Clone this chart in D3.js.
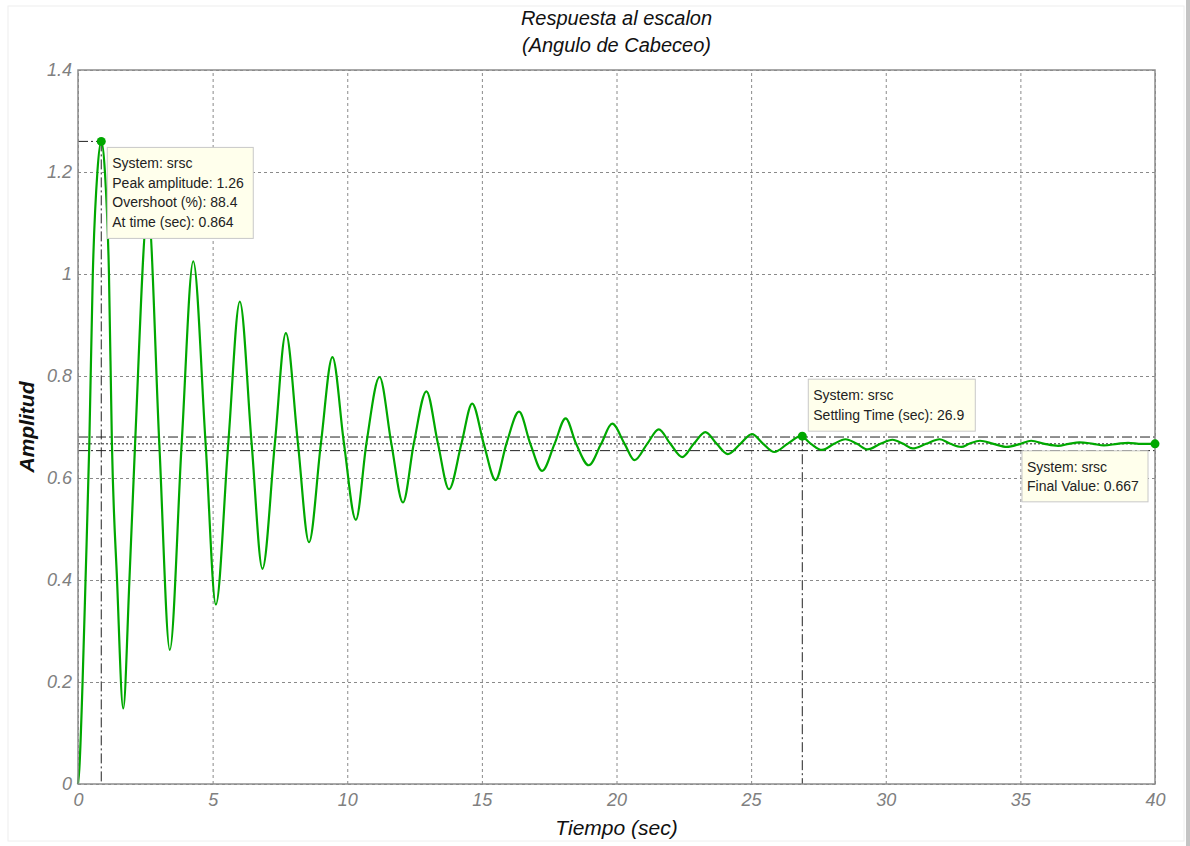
<!DOCTYPE html>
<html>
<head>
<meta charset="utf-8">
<script src="https://cdn.jsdelivr.net/npm/d3@7"></script>
<style>
  body { margin: 0; background: #fff; }
  svg { display: block; }
</style>
</head>
<body>
<script>
// respuesta al escalon (tiempo en s, amplitud)
var tiempo = [0, 0.05, 0.17, 0.28, 0.42, 0.55, 0.72, 0.864, 1.0, 1.15, 1.26, 1.45, 1.68, 1.91, 2.12,
  2.6, 3.02, 3.41, 3.85, 4.28, 4.74, 5.12, 5.58, 6.01, 6.45, 6.85, 7.31, 7.72, 8.17, 8.58, 9.02,
  9.45, 9.88, 10.32, 10.71, 11.2, 11.64, 12.07, 12.47, 12.94, 13.37, 13.78, 14.24, 14.64, 15.07,
  15.51, 15.91, 16.38, 16.8, 17.24, 17.7, 18.11, 18.5, 18.97, 19.43, 19.84, 20.3, 20.67, 21.14,
  21.57, 22.0, 22.44, 22.87, 23.3, 23.72, 24.13, 24.6, 25.03, 25.45, 25.86, 26.35, 26.85, 27.22,
  27.63, 28.08, 28.5, 28.93, 29.33, 29.8, 30.25, 30.65, 31.0, 31.5, 32.0, 32.4, 32.8, 33.1, 33.5,
  34.0, 34.5, 35.0, 35.4, 35.9, 36.4, 36.8, 37.2, 37.7, 38.1, 38.6, 39.0, 39.5, 40];
var amplitud = [0, 0.03, 0.2, 0.4, 0.667, 1.0, 1.2, 1.26, 1.2, 1.0, 0.667, 0.4, 0.148, 0.4, 0.667,
  1.128, 0.667, 0.263, 0.667, 1.025, 0.667, 0.352, 0.667, 0.946, 0.667, 0.422, 0.667, 0.884, 0.667, 0.474, 0.667,
  0.837, 0.667, 0.518, 0.667, 0.798, 0.667, 0.552, 0.667, 0.770, 0.667, 0.578, 0.667, 0.746, 0.667,
  0.596, 0.667, 0.730, 0.667, 0.614, 0.667, 0.717, 0.667, 0.625, 0.667, 0.7065, 0.667, 0.635, 0.667,
  0.6955, 0.667, 0.641, 0.667, 0.690, 0.667, 0.647, 0.667, 0.686, 0.667, 0.651, 0.667, 0.682, 0.667,
  0.655, 0.667, 0.676, 0.667, 0.656, 0.667, 0.675, 0.667, 0.658, 0.667, 0.676, 0.667, 0.661, 0.667, 0.673,
  0.667, 0.661, 0.667, 0.673, 0.667, 0.663, 0.667, 0.670, 0.667, 0.664, 0.667, 0.669, 0.667, 0.667];

var xTicks = [0, 5, 10, 15, 20, 25, 30, 35, 40];
var yTicks = [0, 0.2, 0.4, 0.6, 0.8, 1, 1.2, 1.4];

// caracteristicas marcadas
var pico = {t: 0.864, v: 1.26};
var establecimiento = {t: 26.9, v: 0.682};
var valorFinal = {t: 40, v: 0.667};
var banda = [0.98, 1.02];

var pico_texto = ["System: srsc", "Peak amplitude: 1.26", "Overshoot (%): 88.4", "At time (sec): 0.864"];
var est_texto = ["System: srsc", "Settling Time (sec): 26.9"];
var final_texto = ["System: srsc", "Final Value: 0.667"];

var W = 1190, H = 846;
var margin = {top: 70, right: 35, bottom: 62, left: 78},
	width = W - margin.left - margin.right,
	height = H - margin.top - margin.bottom;

var svg = d3.select("body").append("svg")
	.attr("width", W)
	.attr("height", H);

// marco de la figura
svg.append("rect").attr("x", 8).attr("y", 6).attr("width", 1176).attr("height", 835)
	.attr("fill", "#fff").attr("stroke", "#eeeeee");
svg.append("rect").attr("x", 1186).attr("y", 0).attr("width", 4).attr("height", H)
	.attr("fill", "#c4c4c4");

var g = svg.append("g")
	.attr("transform", "translate(" + margin.left + "," + margin.top + ")");

var x = d3.scaleLinear().domain([0, 40]).range([0, width]);
var y = d3.scaleLinear().domain([0, 1.4]).range([height, 0]);

var tickFont = "'Liberation Sans Narrow', 'Liberation Sans', Arial, sans-serif";

// rejilla
g.append("g")
	.attr("transform", "translate(0," + height + ")")
	.call(d3.axisBottom(x).tickValues(xTicks).tickSize(-height).tickFormat(function(){return null;}))
	.call(function(s){ s.select(".domain").remove(); })
	.selectAll("line")
	.attr("stroke", "#8a8a8a")
	.attr("stroke-dasharray", "3,3");
g.append("g")
	.call(d3.axisLeft(y).tickValues(yTicks).tickSize(-width).tickFormat(function(){return null;}))
	.call(function(s){ s.select(".domain").remove(); })
	.selectAll("line")
	.attr("stroke", "#8a8a8a")
	.attr("stroke-dasharray", "3,3");

// ejes con etiquetas
var xAxis = g.append("g")
	.attr("transform", "translate(0," + height + ")")
	.call(d3.axisBottom(x).tickValues(xTicks).tickSize(0).tickPadding(9).tickFormat(d3.format("d")));
var yAxis = g.append("g")
	.call(d3.axisLeft(y).tickValues(yTicks).tickSize(0).tickPadding(6)
		.tickFormat(function(d){ return d === 0 || d === 1 ? String(d) : d3.format(".1f")(d); }));
[xAxis, yAxis].forEach(function(a){
	a.select(".domain").remove();
	a.selectAll("text")
		.attr("fill", "#808080")
		.attr("font-family", tickFont)
		.attr("font-style", "italic")
		.attr("font-size", 18);
});

// lineas de banda y valor final
var dashDot = "10,3,2,3";
banda.forEach(function(b){
	g.append("line")
		.attr("x1", 0).attr("x2", width)
		.attr("y1", y(valorFinal.v * b)).attr("y2", y(valorFinal.v * b))
		.attr("stroke", "#222").attr("stroke-dasharray", dashDot);
});
g.append("line")
	.attr("x1", 0).attr("x2", width)
	.attr("y1", y(valorFinal.v)).attr("y2", y(valorFinal.v))
	.attr("stroke", "#222").attr("stroke-dasharray", "2,2");

// guias del pico y del tiempo de establecimiento
g.append("line")
	.attr("x1", x(pico.t)).attr("x2", x(pico.t))
	.attr("y1", y(pico.v)).attr("y2", height)
	.attr("stroke", "#222").attr("stroke-dasharray", dashDot);
g.append("line")
	.attr("x1", 0).attr("x2", x(pico.t))
	.attr("y1", y(pico.v)).attr("y2", y(pico.v))
	.attr("stroke", "#222").attr("stroke-dasharray", dashDot);
g.append("line")
	.attr("x1", x(establecimiento.t)).attr("x2", x(establecimiento.t))
	.attr("y1", y(establecimiento.v)).attr("y2", height)
	.attr("stroke", "#222").attr("stroke-dasharray", dashDot);

// curva
var puntos = tiempo.map(function(t, i){ return [t, amplitud[i]]; });
var linea = d3.line()
	.x(function(d){ return x(d[0]); })
	.y(function(d){ return y(d[1]); })
	.curve(d3.curveMonotoneX);
g.append("path")
	.datum(puntos)
	.attr("fill", "none")
	.attr("stroke", "#00a800")
	.attr("stroke-width", 2.2)
	.attr("stroke-linejoin", "round")
	.attr("d", linea);

// caja del grafico
g.append("rect")
	.attr("width", width).attr("height", height)
	.attr("fill", "none")
	.attr("stroke", "#8c8c8c")
	.attr("stroke-width", 1.5);

// marcadores
[pico, establecimiento, valorFinal].forEach(function(p){
	g.append("circle")
		.attr("cx", x(p.t)).attr("cy", y(p.v)).attr("r", 4.5)
		.attr("fill", "#00a800");
});

// cajas de datos
function nota(px, py, w, h, lineas) {
	var n = g.append("g").attr("transform", "translate(" + px + "," + py + ")");
	n.append("rect")
		.attr("width", w).attr("height", h)
		.attr("fill", "#ffffec")
		.attr("stroke", "#c8c8c8");
	n.selectAll("text").data(lineas).enter().append("text")
		.attr("x", 5)
		.attr("y", function(d, i){ return 21 + i * 19.5; })
		.attr("font-family", "'Liberation Sans', Arial, sans-serif")
		.attr("font-size", 14)
		.attr("fill", "#222")
		.text(function(d){ return d; });
}
nota(x(pico.t) + 6, y(pico.v) + 6, 146, 91, pico_texto);
nota(x(establecimiento.t) + 6, y(establecimiento.v) - 57, 167, 52, est_texto);
nota(x(valorFinal.t) - 133, y(valorFinal.v) + 7, 126, 51, final_texto);

// titulos
var titulo = svg.append("text")
	.attr("x", margin.left + width / 2)
	.attr("font-family", tickFont)
	.attr("font-style", "italic")
	.attr("font-size", 20)
	.attr("text-anchor", "middle")
	.attr("fill", "#111");
titulo.append("tspan").attr("x", margin.left + width / 2).attr("y", 25).text("Respuesta al escalon");
titulo.append("tspan").attr("x", margin.left + width / 2).attr("y", 52).text("(Angulo de Cabeceo)");

svg.append("text")
	.attr("x", margin.left + width / 2)
	.attr("y", 835)
	.attr("text-anchor", "middle")
	.attr("font-family", tickFont)
	.attr("font-style", "italic")
	.attr("font-size", 21)
	.attr("fill", "#111")
	.text("Tiempo (sec)");

svg.append("text")
	.attr("transform", "translate(34," + (margin.top + y(0.7)) + ") rotate(-90)")
	.attr("text-anchor", "middle")
	.attr("font-family", tickFont)
	.attr("font-style", "italic")
	.attr("font-weight", "bold")
	.attr("font-size", 21)
	.attr("fill", "#111")
	.text("Amplitud");
</script>
</body>
</html>
